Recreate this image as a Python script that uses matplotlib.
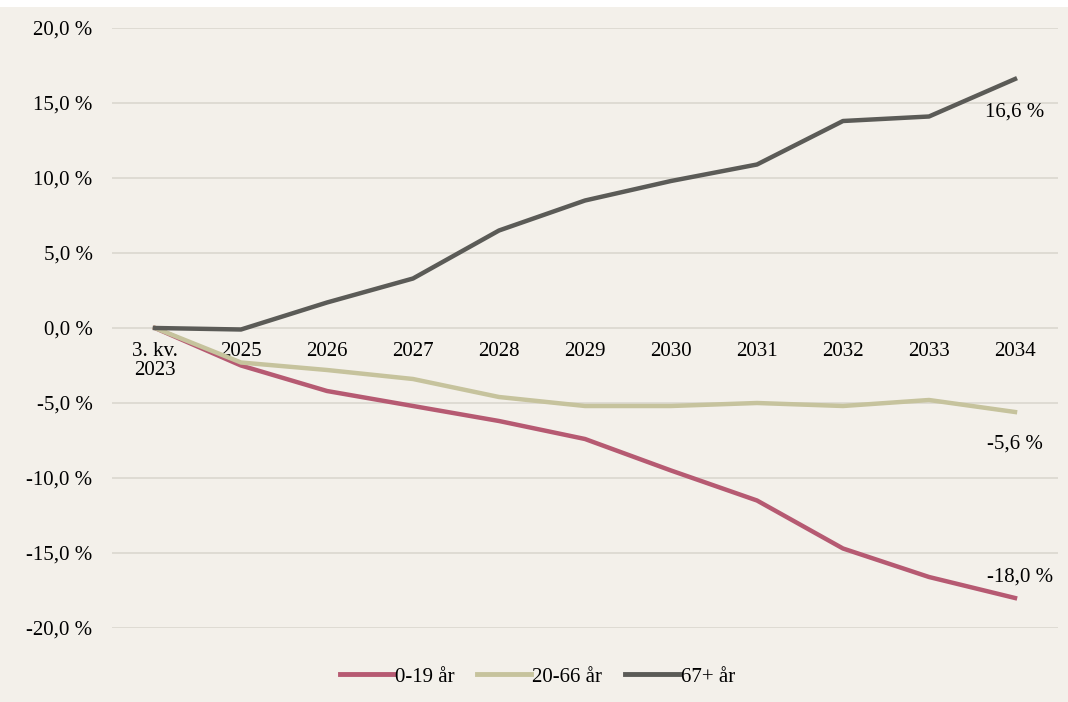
import matplotlib.pyplot as plt
from matplotlib.patches import Rectangle

# Data
categories = ['3. kv.\n2023', '2025', '2026', '2027', '2028', '2029', '2030',
              '2031', '2032', '2033', '2034']
age_0_19 = [0.0, -2.5, -4.2, -5.2, -6.2, -7.4, -9.5, -11.5, -14.7, -16.6, -18.0]
age_20_66 = [0.0, -2.3, -2.8, -3.4, -4.6, -5.2, -5.2, -5.0, -5.2, -4.8, -5.6]
age_67 = [0.0, -0.1, 1.7, 3.3, 6.5, 8.5, 9.8, 10.9, 13.8, 14.1, 16.6]
yticks = [20, 15, 10, 5, 0, -5, -10, -15, -20]

bg = '#f3f0ea'
fs = 15
plt.rcParams['font.family'] = ['Liberation Serif', 'DejaVu Serif']

fig = plt.figure(figsize=(10.68, 7.02), dpi=100, facecolor=bg)
# white strip at the top (cut off caption area)
fig.patches.append(Rectangle((0, 1 - 7 / 702), 1, 7 / 702, transform=fig.transFigure,
                             facecolor='white', edgecolor='none', zorder=0))

ax = fig.add_axes([112 / 1068, 74 / 702, 946 / 1068, 600 / 702])
ax.set_facecolor(bg)

x = list(range(len(categories)))
ax.plot(x, age_0_19, color='#b65a72', lw=3.2, label='0-19 år', zorder=3)
ax.plot(x, age_20_66, color='#c6c39d', lw=3.2, label='20-66 år', zorder=3)
ax.plot(x, age_67, color='#5b5b57', lw=3.2, label='67+ år', zorder=4)

ax.set_xlim(-0.5, len(categories) - 0.5)
ax.set_ylim(-20, 20)
ax.set_yticks(yticks)
ax.set_yticklabels([f'{v:.1f} %'.replace('.', ',') for v in yticks])
ax.grid(axis='y', color='#dad7cf', lw=1.2)
ax.set_axisbelow(True)

for s in ax.spines.values():
    s.set_visible(False)
ax.spines['bottom'].set_position(('data', 0))

ax.set_xticks(x)
ax.set_xticklabels(categories, linespacing=1.0)
ax.tick_params(axis='x', length=0, pad=10, labelsize=fs)
ax.tick_params(axis='y', length=0, pad=14, labelsize=fs)

# end labels
last = len(categories) - 1
ax.annotate('16,6 %', (last, age_67[-1]), xytext=(0, -24), textcoords='offset points',
            ha='center', va='center', fontsize=fs)
ax.annotate('-5,6 %', (last, age_20_66[-1]), xytext=(0, -23), textcoords='offset points',
            ha='center', va='center', fontsize=fs)
ax.annotate('-18,0 %', (last, age_0_19[-1]), xytext=(4, 15), textcoords='offset points',
            ha='center', va='center', fontsize=fs)

leg = fig.legend(loc='center', bbox_to_anchor=(0.503, 0.036), ncol=3, frameon=False,
                 fontsize=fs, handlelength=2.6, handletextpad=0.05, columnspacing=1.1)
for line in leg.get_lines():
    line.set_linewidth(3.5)

fig.savefig('out.png', dpi=100, facecolor=bg)
